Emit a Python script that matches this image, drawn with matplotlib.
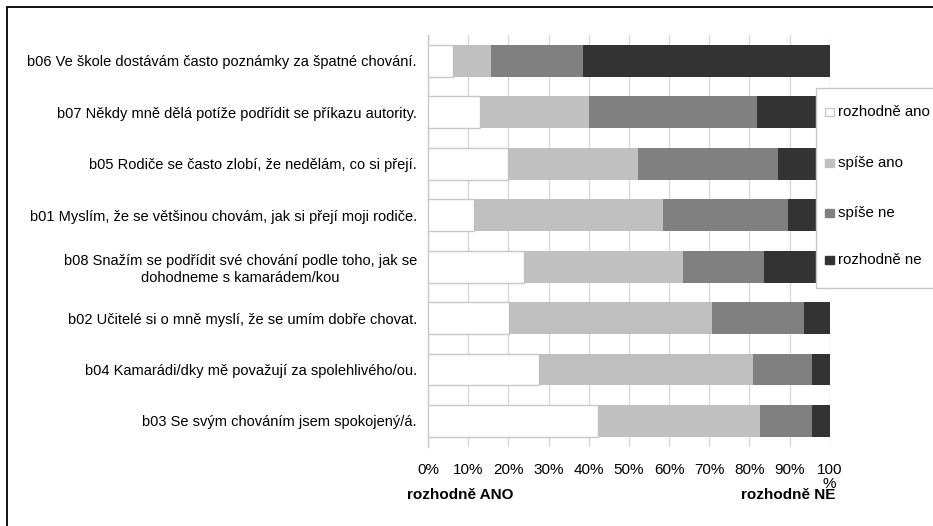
import matplotlib
matplotlib.use("Agg")
import matplotlib.pyplot as plt
from matplotlib.patches import Rectangle

plt.rcParams['font.family'] = ['Liberation Sans', 'DejaVu Sans']

# Items, listed top to bottom
items = [
    "b06 Ve škole dostávám často poznámky za špatné chování.",
    "b07 Někdy mně dělá potíže podřídit se příkazu autority.",
    "b05 Rodiče se často zlobí, že nedělám, co si přejí.",
    "b01 Myslím, že se většinou chovám, jak si přejí moji rodiče.",
    "b08 Snažím se podřídit své chování podle toho, jak se\ndohodneme s kamarádem/kou",
    "b02 Učitelé si o mně myslí, že se umím dobře chovat.",
    "b04 Kamarádi/dky mě považují za spolehlivého/ou.",
    "b03 Se svým chováním jsem spokojený/á.",
]

categories = ["rozhodně ano", "spíše ano", "spíše ne", "rozhodně ne"]

# Percent shares per item (same order as items)
rozhodne_ano = [6.2, 12.9, 19.9, 11.5, 23.8, 20.2, 27.6, 42.3]
spise_ano = [9.4, 27.1, 32.3, 47.0, 39.7, 50.5, 53.3, 40.3]
spise_ne = [22.9, 41.9, 34.9, 31.1, 20.1, 22.9, 14.7, 13.0]
rozhodne_ne = [61.5, 18.1, 12.9, 10.4, 16.4, 6.4, 4.4, 4.4]

tick_values = [0, 10, 20, 30, 40, 50, 60, 70, 80, 90, 100]
tick_labels = ["0%", "10%", "20%", "30%", "40%", "50%", "60%", "70%",
               "80%", "90%", "100\n%"]

series = [rozhodne_ano, spise_ano, spise_ne, rozhodne_ne]
fills = ["#ffffff", "#c0c0c0", "#808080", "#333333"]
edges = ["#c8c8c8", "none", "none", "none"]

W, H = 933, 526
fig = plt.figure(figsize=(W / 100, H / 100), dpi=100)
fig.patch.set_facecolor("white")

# outer chart frame (left and top edges visible)
fig.patches.append(Rectangle((7 / W, -0.05), 1.1, 1 - 7 / H + 0.05,
                             transform=fig.transFigure, fill=False,
                             edgecolor="black", linewidth=1.3, zorder=0))

left, right = 428 / W, 829.7 / W
top, bottom = 1 - 35 / H, 1 - 446.7 / H
ax = fig.add_axes([left, bottom, right - left, top - bottom])
ax.set_facecolor("none")

n = len(items)
ypos = list(range(n))
bar_h = 0.62
cum = [0.0] * n
for vals, fc, ec in zip(series, fills, edges):
    ax.barh(ypos, vals, left=cum, height=bar_h, color=fc,
            edgecolor=ec, linewidth=1.0 if ec != "none" else 0, zorder=3)
    cum = [c + v for c, v in zip(cum, vals)]

ax.set_xlim(0, 100)
ax.set_ylim(n - 0.5, -0.5)
ax.set_xticks(tick_values)
ax.set_xticklabels(tick_labels, fontsize=11, linespacing=0.95)
ax.set_yticks(ypos)
ax.set_yticklabels(items, fontsize=10.5, multialignment="center",
                   linespacing=1.25)
ax.tick_params(axis="both", length=0, colors="black")
ax.tick_params(axis="x", pad=12)
ax.tick_params(axis="y", pad=8)
ax.xaxis.grid(True, color="#d9d9d9", linewidth=1.0, zorder=0)
ax.set_axisbelow(True)
for s in ["top", "right", "bottom"]:
    ax.spines[s].set_visible(False)
ax.spines["left"].set_color("#c8c8c8")
ax.spines["left"].set_linewidth(1.0)

# end-point captions of the scale
fig.text(407 / W, 1 - 495 / H, "rozhodně ANO", fontsize=11,
         fontweight="bold", ha="left", va="center")
fig.text(835 / W, 1 - 495 / H, "rozhodně NE", fontsize=11,
         fontweight="bold", ha="right", va="center")

# legend box
lx, ly_top, ly_bot = 816 / W, 1 - 88 / H, 1 - 288 / H
fig.patches.append(Rectangle((lx, ly_bot), 0.2, ly_top - ly_bot,
                             transform=fig.transFigure, facecolor="white",
                             edgecolor="#c8c8c8", linewidth=1.0, zorder=5))
leg_y = [112, 163, 213, 260]
for lab, fc, ec, yy in zip(categories, fills, edges, leg_y):
    sq = 8.5
    fig.patches.append(Rectangle((825 / W, 1 - (yy + sq / 2) / H), sq / W, sq / H,
                                 transform=fig.transFigure, facecolor=fc,
                                 edgecolor=ec if ec != "none" else fc,
                                 linewidth=1.0, zorder=6))
    fig.text(838 / W, 1 - yy / H, lab, fontsize=10.8, ha="left",
             va="center", zorder=7)

fig.savefig("out.png", dpi=100)
